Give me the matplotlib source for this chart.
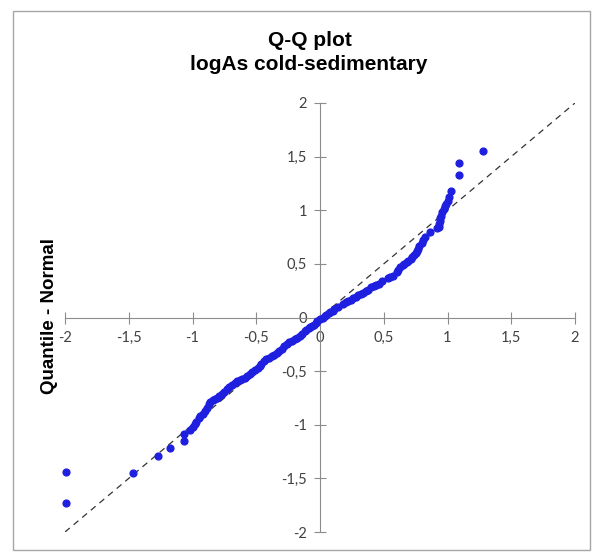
import numpy as np
import matplotlib.pyplot as plt
from matplotlib.ticker import FuncFormatter
from matplotlib.patches import Rectangle

# sorted logAs values (standardised) and matching normal quantiles
logas = [-1.99, -1.99, -1.47, -1.27, -1.18, -1.07, -1.07, -1.02, -1.00, -0.98,
         -0.97, -0.95, -0.94, -0.92, -0.90, -0.89, -0.87, -0.86, -0.84, -0.82,
         -0.81, -0.79, -0.77, -0.75, -0.73, -0.71, -0.69, -0.67, -0.65, -0.63,
         -0.61, -0.59, -0.57, -0.55, -0.53, -0.51, -0.49, -0.47, -0.46, -0.44,
         -0.42, -0.40, -0.38, -0.36, -0.34, -0.32, -0.30, -0.28, -0.26, -0.24,
         -0.22, -0.20, -0.18, -0.16, -0.14, -0.12, -0.11, -0.09, -0.08, -0.06,
         -0.05, -0.03, -0.02, 0.00, 0.02, 0.04, 0.05, 0.07, 0.08, 0.10,
         0.11, 0.14, 0.18, 0.20, 0.22, 0.24, 0.26, 0.28, 0.30, 0.32,
         0.34, 0.36, 0.38, 0.40, 0.42, 0.44, 0.46, 0.49, 0.53, 0.55,
         0.57, 0.60, 0.61, 0.63, 0.65, 0.66, 0.68, 0.69, 0.71, 0.72,
         0.74, 0.75, 0.76, 0.77, 0.78, 0.80, 0.81, 0.82, 0.86, 0.92,
         0.93, 0.93, 0.94, 0.94, 0.95, 0.96, 0.97, 0.98, 0.99, 1.00,
         1.01, 1.03, 1.09, 1.09, 1.28]
quantile = [-1.73, -1.44, -1.45, -1.29, -1.22, -1.15, -1.09, -1.05, -1.02, -0.99,
            -0.97, -0.94, -0.92, -0.90, -0.87, -0.84, -0.81, -0.79, -0.77, -0.76,
            -0.75, -0.73, -0.71, -0.69, -0.67, -0.65, -0.63, -0.61, -0.59, -0.58,
            -0.57, -0.56, -0.55, -0.53, -0.51, -0.49, -0.47, -0.45, -0.43, -0.41,
            -0.39, -0.38, -0.36, -0.35, -0.33, -0.31, -0.29, -0.27, -0.25, -0.23,
            -0.22, -0.20, -0.19, -0.17, -0.15, -0.13, -0.12, -0.10, -0.09, -0.08,
            -0.07, -0.05, -0.03, -0.01, 0.00, 0.01, 0.02, 0.04, 0.05, 0.06,
            0.08, 0.10, 0.13, 0.14, 0.15, 0.16, 0.18, 0.19, 0.21, 0.22,
            0.23, 0.25, 0.26, 0.28, 0.29, 0.30, 0.31, 0.34, 0.37, 0.38,
            0.39, 0.42, 0.44, 0.47, 0.49, 0.50, 0.52, 0.53, 0.55, 0.56,
            0.58, 0.60, 0.62, 0.64, 0.67, 0.69, 0.72, 0.75, 0.80, 0.83,
            0.84, 0.87, 0.90, 0.93, 0.95, 0.98, 1.01, 1.04, 1.06, 1.09,
            1.12, 1.18, 1.33, 1.44, 1.55]
ref_line = [-2, 2]
ticks = [-2, -1.5, -1, -0.5, 0, 0.5, 1, 1.5, 2]


def comma(v, pos):
    return ("%g" % v).replace(".", ",")


fig = plt.figure(figsize=(6.03, 5.54), dpi=100)
# thin grey frame round the whole chart area
fig.patches.append(Rectangle((13 / 603, 4 / 554), 577 / 603, 539 / 554,
                             transform=fig.transFigure, fill=False,
                             edgecolor="#a6a6a6", linewidth=1))

ax = fig.add_axes([65 / 603, 22 / 554, 510 / 603, 429 / 554])
ax.plot(ref_line, ref_line, linestyle=(0, (5, 4)), color="#333333", linewidth=0.9)
ax.scatter(logas, quantile, s=24, color="#1f1fe0", edgecolors="#1f1fe0",
           zorder=3, clip_on=False)

ax.set_xlim(-2, 2)
ax.set_ylim(-2, 2)
for side in ["top", "right"]:
    ax.spines[side].set_visible(False)
# axes cross at the origin
for side in ["left", "bottom"]:
    ax.spines[side].set_position(("data", 0))
    ax.spines[side].set_color("#8c8c8c")
ax.set_xticks(ticks)
ax.set_yticks(ticks)
ax.xaxis.set_major_formatter(FuncFormatter(comma))
ax.yaxis.set_major_formatter(FuncFormatter(comma))
ax.tick_params(direction="inout", length=9, color="#8c8c8c", labelsize=10.5,
               labelcolor="#404040", pad=5)
for lab in ax.get_xticklabels() + ax.get_yticklabels():
    lab.set_family("Lato")

fig.text(310 / 603, 1 - 41 / 554, "Q-Q plot", ha="center", va="center",
         fontsize=15, fontweight="bold", family="Liberation Sans")
fig.text(309 / 603, 1 - 65 / 554, "logAs cold-sedimentary", ha="center", va="center",
         fontsize=15, fontweight="bold", family="Liberation Sans")
fig.text(50 / 603, 1 - 316 / 554, "Quantile - Normal", ha="center", va="center",
         rotation=90, fontsize=13.5, fontweight="bold", family="Liberation Sans")

fig.savefig("out.png", dpi=100)
